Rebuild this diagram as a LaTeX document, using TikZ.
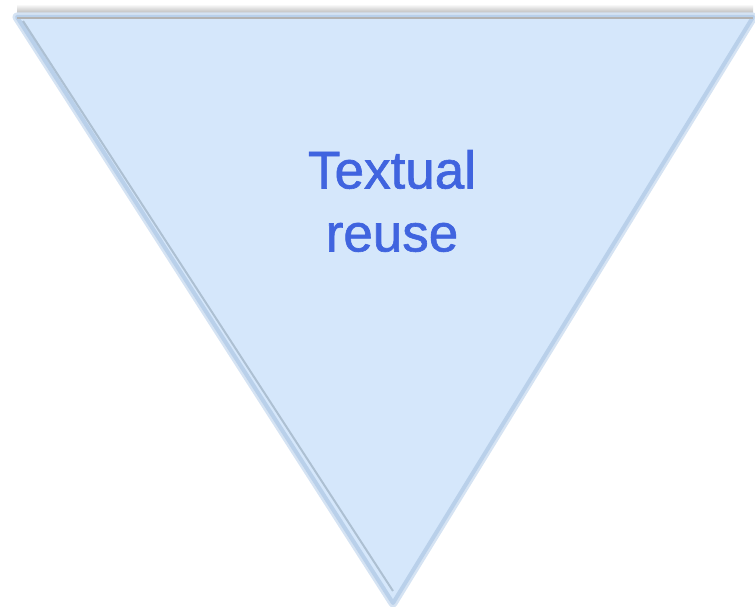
\documentclass[tikz,border=0pt]{standalone}
\usepackage{fontspec}
\setmainfont{Liberation Sans}
\newfontfamily\labelfont[FakeBold=1.2]{Liberation Sans}
\definecolor{fillblue}{HTML}{D5E7FB}
\definecolor{rimblue}{HTML}{B9D0EA}
\definecolor{edgegrey}{HTML}{93A6B8}
\definecolor{textblue}{HTML}{4064DF}

\begin{document}
\begin{tikzpicture}[x=1pt,y=1pt,yscale=-1,xscale=1]
		% Fix the page to 755 by 607
		\useasboundingbox (0,0) rectangle (755,607);

		% Corners of the funnel triangle
		\coordinate (tl) at (17,17);
		\coordinate (tr) at (753,17);
		\coordinate (apex) at (393,603);

		% Grey shade along the top edge
		\shade[top color=white, bottom color=black!35] (17,4) rectangle (753,16);

		% Soft light rim round the triangle
		\draw[rimblue!60, line width=9pt, line join=round] (tl) -- (tr) -- (apex) -- cycle;

		% The triangle itself
		\fill[fillblue] (tl) -- (tr) -- (apex) -- cycle;
		\draw[rimblue, line width=4pt, line join=round] (tl) -- (tr) -- (apex) -- cycle;

		% Darker inner edge on the left side and at the top
		\draw[edgegrey, opacity=0.6, line width=2pt] ([xshift=6pt,yshift=4pt]tl) -- ([yshift=-12pt]apex);
		\draw[black!30, line width=1.5pt] ([yshift=1pt]tl) -- ([yshift=1pt]tr);

		% Label
		\node[text=textblue, font=\labelfont\fontsize{53}{63}\selectfont, align=center] (label) at (392,201) {Textual\\reuse};
	\end{tikzpicture}
\end{document}
